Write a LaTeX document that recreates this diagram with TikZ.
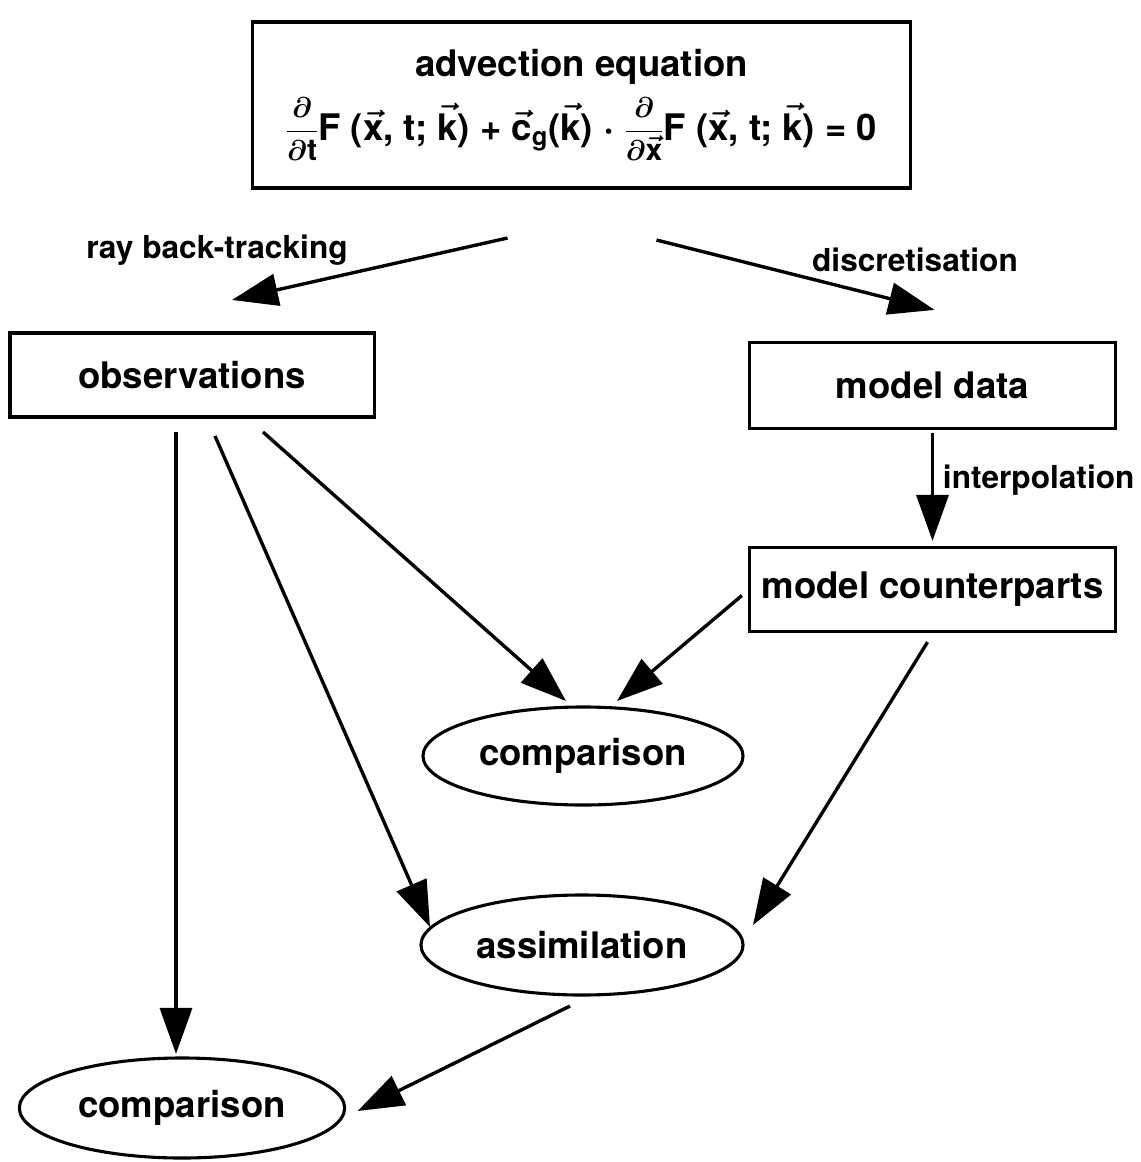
\documentclass[tikz,border=0pt]{standalone}
\usepackage{amsmath}
\usepackage{graphicx}
\usepackage{fontspec}
\setmainfont{TeX Gyre Heros}
\usetikzlibrary{arrows.meta,shapes.geometric,calc}

\newcommand{\vx}{\ensuremath{\vec{\text{x}}}}
\newcommand{\vk}{\ensuremath{\vec{\text{k}}}}
\newcommand{\pfrac}[1]{\raisebox{1pt}{\scalebox{0.82}{\ensuremath{\dfrac{\partial}{\partial#1}}}}}
\newcommand{\advect}{{\boldmath\pfrac{\text{t}}F (\vx, t; \vk) +
  \ensuremath{\vec{\text{c}}_{\text{g}}}(\vk) \ensuremath{\boldsymbol{\cdot}}
  \pfrac{\vec{\text{x}}}F (\vx, t; \vk) = 0}}

\tikzset{
  box/.style={draw, line width=2.2pt, inner sep=0pt, outer sep=0pt,
    font=\fontsize{26}{30}\selectfont\bfseries},
  oval/.style={ellipse, draw, line width=2.2pt, inner sep=0pt, outer sep=0pt,
    minimum height=2.5cm, font=\fontsize{26}{30}\selectfont\bfseries},
  flow/.style={line width=2.4pt, -{Triangle[length=1.15cm,width=0.8cm]}},
  lbl/.style={font=\fontsize{22.5}{26}\selectfont\bfseries}
}

\begin{document}
\begin{tikzpicture}[x=0.025cm,y=-0.025cm]
\useasboundingbox (0,0) rectangle (1140,1162);

% Equation box
\node[box, align=center, minimum width=16.43cm, minimum height=4.15cm] (eqn) at (581.5,105)
  {advection equation\\[8pt] \advect};

% Boxes
\node[box, minimum width=9.1cm, minimum height=2.1cm] (obs) at (192,375) {observations};
\node[box, minimum width=9.13cm, minimum height=2.13cm] (mdata) at (932.5,385.5) {model data};
\node[box, minimum width=9.13cm, minimum height=2.08cm] (mcount) at (932.5,589.5) {model counterparts};

% Ellipses
\node[oval, minimum width=8cm, minimum height=2.45cm] (comp1) at (583,756) {comparison};
\node[oval, minimum width=8.05cm] (assim) at (582,945) {assimilation};
\node[oval, minimum width=8.13cm] (comp2) at (182,1108) {comparison};

% Arrows from the equation
\draw[flow] ($(eqn.south)+(-74,50)$) -- ($(obs.north)+(40,-33)$);
\node[lbl] (raybt) at (217,250) {ray back-tracking};
\draw[flow] ($(eqn.south)+(75,52)$) -- ($(mdata.north)+(2,-33)$);
\node[lbl] (discr) at (915,260) {discretisation};

% Interpolation
\draw[flow] ($(mdata.south)+(0,5)$) -- ($(mcount.north)+(0,-7)$);
\node[lbl, anchor=west] (interp) at (938,480) {interpolation};

% Arrows from observations
\draw[flow] ($(obs.south)+(-16,15)$) -- ($(comp2.north)+(-6,-4)$);
\draw[flow] ($(obs.south)+(23,19)$) -- ($(assim.center)+(-152,-18)$);
\draw[flow] ($(obs.south)+(71,15)$) -- ($(comp1.north)+(-17,-6)$);

% Arrows from model counterparts
\draw[flow] ($(mcount.west)+(-8,6)$) -- ($(comp1.north)+(34,-6)$);
\draw[flow] ($(mcount.south)+(-5,11)$) -- ($(assim.center)+(171,-20)$);

% Assimilation to comparison
\draw[flow] ($(assim.south)+(-12,11)$) -- ($(comp2.east)+(13,3)$);
\end{tikzpicture}
\end{document}
